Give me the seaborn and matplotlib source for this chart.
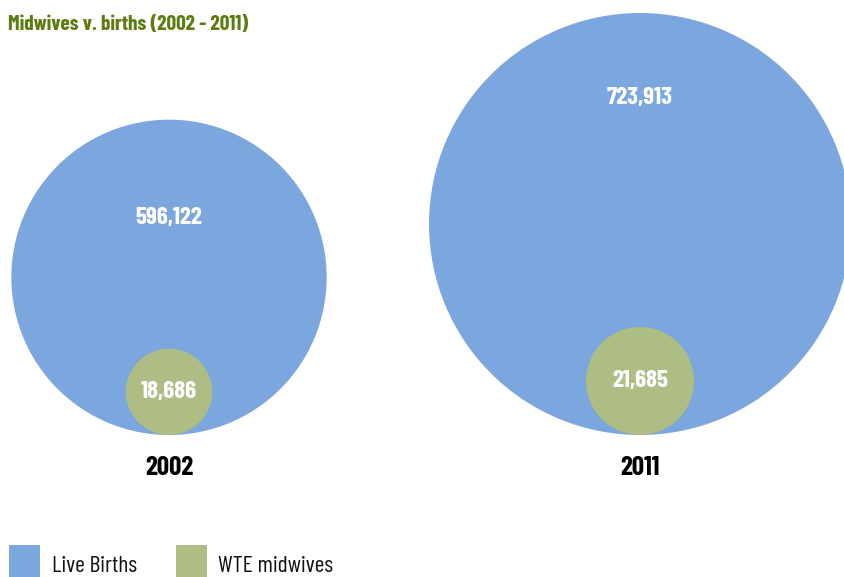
import matplotlib
matplotlib.use("Agg")
import matplotlib.pyplot as plt
from matplotlib.patches import Rectangle
import numpy as np
import pandas as pd
import seaborn as sns

# Data
years = ["2002", "2011"]
live_births = [596122, 723913]
wte_midwives = [18686, 21685]
series_names = ["Live Births", "WTE midwives"]

BLUE = "#7ba6de"
GREEN = "#adbd83"
TITLE_GREEN = "#5c7c10"

sns.set_theme(style="white")
plt.rcParams["font.family"] = ["Barlow Condensed", "DejaVu Sans"]

W, H, DPI = 845, 577, 100
fig = plt.figure(figsize=(W / DPI, H / DPI), dpi=DPI)
ax = fig.add_axes([0, 0, 1, 1])
ax.set_xlim(0, W)
ax.set_ylim(H, 0)
ax.axis("off")


def radius_scale(values, r_max, exponent=1.5):
    v = np.asarray(values, dtype=float)
    return r_max * (v / v.max()) ** exponent


centers_x = [169, 640]
baseline = 435

r_births = radius_scale(live_births, 211)
r_mid = radius_scale(wte_midwives, 54)

px_to_pt = 72.0 / DPI


def bubble_frame(values, radii):
    return pd.DataFrame({
        "x": centers_x,
        "y": [baseline - r for r in radii],
        "r": radii,
        "value": values,
    })


births_df = bubble_frame(live_births, r_births)
mid_df = bubble_frame(wte_midwives, r_mid)

for df, color in [(births_df, BLUE), (mid_df, GREEN)]:
    sizes = (2 * df["r"] * px_to_pt) ** 2
    sns.scatterplot(data=df, x="x", y="y", s=sizes.values, color=color,
                    linewidth=0, alpha=1, ax=ax, legend=False, zorder=2)

# Value labels
label_offsets = [98, 85]
for (_, row), off in zip(births_df.iterrows(), label_offsets):
    top = row["y"] - row["r"]
    ax.text(row["x"], top + off, f"{int(row['value']):,}", color="white",
            fontsize=18, fontweight="bold", ha="center", va="center", zorder=4)
for _, row in mid_df.iterrows():
    ax.text(row["x"], row["y"], f"{int(row['value']):,}", color="white",
            fontsize=18, fontweight="bold", ha="center", va="center", zorder=4)

# Year labels
for x, yr in zip(centers_x, years):
    ax.text(x, 468, yr, color="black", fontsize=19.5, fontweight="bold",
            ha="center", va="center")

# Title
ax.text(8, 25, "Midwives v. births (2002 - 2011)", color=TITLE_GREEN,
        fontsize=15.3, fontweight="bold", ha="left", va="center")

# Legend
legend_items = [(9, 52, BLUE, series_names[0]), (176, 218, GREEN, series_names[1])]
for sx, tx, color, name in legend_items:
    ax.add_patch(Rectangle((sx, 545), 31, 32, facecolor=color, edgecolor="none",
                           clip_on=False))
    ax.text(tx, 567, name, color="#111111", fontsize=17, fontweight="normal",
            ha="left", va="center")

fig.savefig("out.png", dpi=DPI, facecolor="white")
